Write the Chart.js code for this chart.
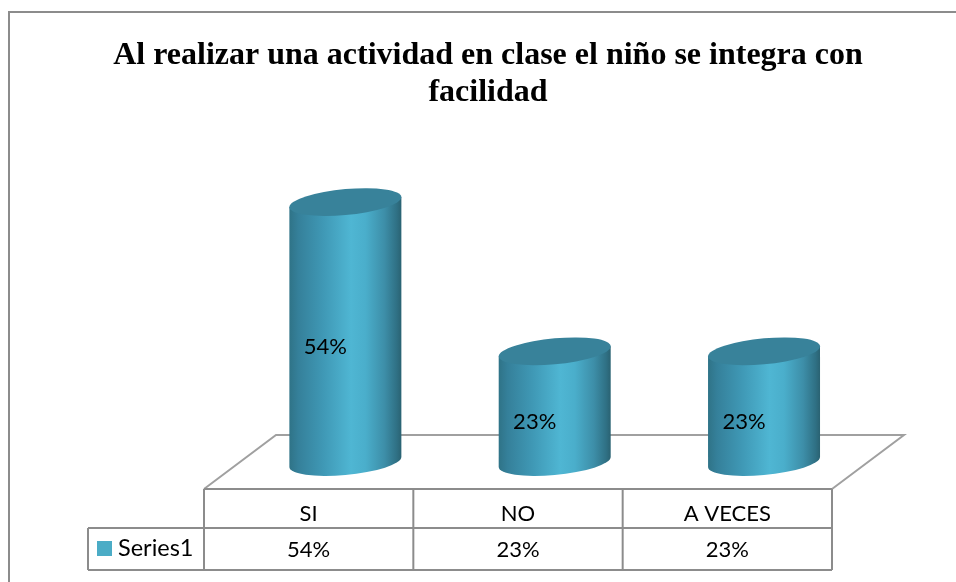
<!DOCTYPE html>
<html>
<head>
<meta charset="utf-8">
<style>html,body{margin:0;padding:0;background:#fff}#w{width:956px;height:582px}</style>
<script src="https://cdn.jsdelivr.net/npm/chart.js@4"></script>
</head>
<body>
<div id="w"><canvas id="c" width="956" height="582"></canvas></div>
<script>
const titleLines = ['Al realizar una actividad en clase el niño se integra con', 'facilidad'];
const categories = ['SI', 'NO', 'A VECES'];
const seriesName = 'Series1';
const values = [54, 23, 23];
const valueLabels = ['54%', '23%', '23%'];

const GRID = '#8c8c8c';
const LABEL_FONT = '22px Lato';

function line(ctx, pts, color, w) {
  ctx.beginPath();
  pts.forEach((p, i) => i ? ctx.lineTo(p[0], p[1]) : ctx.moveTo(p[0], p[1]));
  ctx.lineWidth = w; ctx.strokeStyle = color; ctx.stroke();
}

const scene = {
  id: 'scene',
  beforeDatasetsDraw(chart) {
    const c = chart.ctx, a = chart.chartArea;
    c.save();
    // frame: open on the right and at the bottom, as cropped in the source
    line(c, [[9, 582], [9, 12], [956, 12]], GRID, 2);
    // floor
    const depth = 36, fl = Math.round(a.left - depth) - 1, fr = Math.floor(a.right - depth);
    const ft = 489, bk = 435;
    line(c, [[fl, ft], [fl + 72, bk], [fr + 72, bk], [fr, ft]], '#a0a0a0', 2);
    // data table
    const y1 = 489, y2 = 528, y3 = 570, lx = 88;
    line(c, [[fl, y1], [fr, y1]], GRID, 2);
    line(c, [[lx, y2], [fr, y2]], GRID, 2);
    line(c, [[lx, y3], [fr, y3]], GRID, 2);
    line(c, [[lx, y2], [lx, y3]], GRID, 2);
    const w = (fr - fl) / categories.length;
    for (let i = 0; i <= categories.length; i++) {
      line(c, [[fl + i * w, y1], [fl + i * w, y3]], GRID, 2);
    }
    c.fillStyle = '#000'; c.font = LABEL_FONT;
    c.textAlign = 'center'; c.textBaseline = 'middle';
    categories.forEach((t, i) => {
      const x = fl + (i + .5) * w;
      c.fillText(t, x, 514);
      c.fillText(valueLabels[i], x, 550);
    });
    c.fillStyle = '#4bacc6';
    c.fillRect(97, 541, 15, 15);
    c.fillStyle = '#000'; c.textAlign = 'left';
    c.font = '23.5px Lato';
    c.fillText(chart.data.datasets[0].label, 118, 548);
    c.restore();
  },
  afterDatasetsDraw(chart) {
    const c = chart.ctx;
    chart.getDatasetMeta(0).data.forEach((bar, i) => {
      const r = bar.width / 2, h = bar.base - bar.y, ry = 13, sh = -5 / 56;
      c.save();
      c.transform(1, sh, 0, 1, bar.x, bar.y);
      const g = c.createLinearGradient(-r, 0, r, 0);
      [[0, '#2f7387'], [.08, '#35809a'], [.3, '#3f98b5'], [.55, '#4fb6d3'], [.68, '#4aaecb'],
       [.85, '#3d8ea8'], [.96, '#2f7084'], [1, '#2a6272']].forEach(s => g.addColorStop(s[0], s[1]));
      c.beginPath();
      c.moveTo(-r, 0);
      c.lineTo(-r, h);
      c.ellipse(0, h, r, ry, 0, Math.PI, 0, true);
      c.lineTo(r, 0);
      c.closePath();
      c.fillStyle = g; c.fill();
      c.beginPath();
      c.ellipse(0, 0, r, ry, 0, 0, Math.PI * 2);
      c.fillStyle = '#38829a'; c.fill();
      c.restore();
      c.save();
      c.fillStyle = '#000'; c.font = LABEL_FONT;
      c.textAlign = 'center'; c.textBaseline = 'middle';
      c.fillText(valueLabels[i], bar.x - 20, (bar.y + bar.base) / 2 + 15);
      c.restore();
    });
  }
};

new Chart(document.getElementById('c'), {
  type: 'bar',
  data: {
    labels: categories,
    datasets: [{
      label: seriesName,
      data: values,
      backgroundColor: 'rgba(0,0,0,0)',
      borderWidth: 0,
      categoryPercentage: 1,
      barPercentage: 0.535
    }]
  },
  options: {
    responsive: false,
    animation: false,
    devicePixelRatio: 1,
    layout: { padding: { left: 20, right: 0, top: 0, bottom: 120 } },
    plugins: {
      legend: { display: false },
      tooltip: { enabled: false },
      title: {
        display: true,
        text: titleLines,
        color: '#000',
        font: { family: '"Liberation Serif"', size: 32, weight: 'bold', lineHeight: 1.16 },
        padding: { top: 37, bottom: 62 }
      }
    },
    scales: {
      x: { display: false, grid: { display: false } },
      y: {
        min: 0, max: 60,
        ticks: { display: false },
        grid: { display: false },
        border: { display: false },
        afterFit(s) { s.width = 220.7; }
      },
      y2: {
        position: 'right',
        min: 0, max: 60,
        ticks: { display: false },
        grid: { display: false },
        border: { display: false },
        afterFit(s) { s.width = 87.3; }
      }
    }
  },
  plugins: [scene]
});
</script>
</body>
</html>
